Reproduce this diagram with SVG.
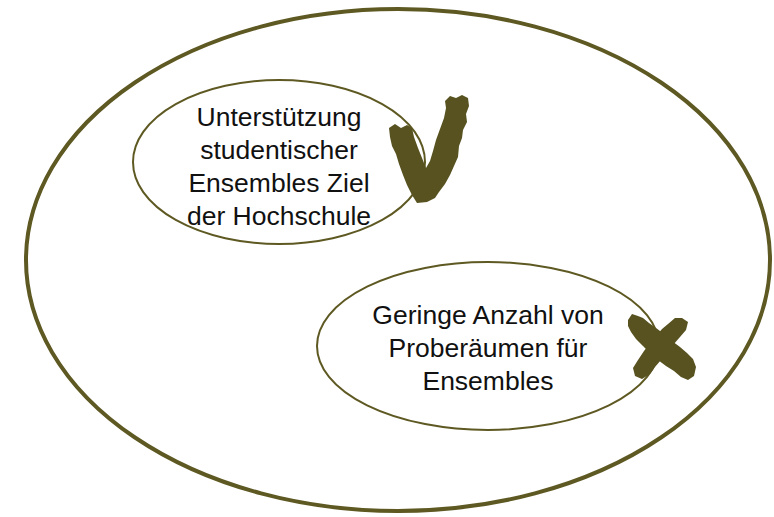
<svg xmlns="http://www.w3.org/2000/svg" width="774" height="517" viewBox="0 0 774 517">
  <style>
    .ring { fill: none; stroke: #5e5922; }
    .label { font-family: "Liberation Sans", Arial, sans-serif; font-size: 26.5px; fill: #111; text-anchor: middle; }
    .brush { fill: #575220; }
  </style>
  <rect width="774" height="517" fill="#ffffff"/>

  <g id="outer">
    <ellipse class="ring" cx="398" cy="260" rx="372" ry="251" stroke-width="4"/>
  </g>

  <g id="support">
    <ellipse class="ring" cx="279" cy="162" rx="146" ry="82" stroke-width="2"/>
    <text class="label" x="279" y="126">Unterstützung</text>
    <text class="label" x="279" y="159">studentischer</text>
    <text class="label" x="279" y="192">Ensembles Ziel</text>
    <text class="label" x="279" y="225">der Hochschule</text>
  </g>

  <g id="rooms">
    <ellipse class="ring" cx="488" cy="346" rx="171" ry="84" stroke-width="2"/>
    <text class="label" x="488" y="324">Geringe Anzahl von</text>
    <text class="label" x="488" y="357">Proberäumen für</text>
    <text class="label" x="488" y="390">Ensembles</text>
  </g>

  <!-- brush-stroke tick -->
  <g id="tick">
    <path class="brush" d="M389,128 L395,124 L401,128 L407,125 L412,128 L414,137 L418,148 L422,158 L426,168 L430,161 L433,151 L436,140 L440,129 L444,118 L446,108 L445,101 L450,96 L456,98 L462,95 L468,98 L469,106 L466,114 L467,122 L463,130 L462,138 L459,146 L458,157 L454,166 L450,175 L445,184 L439,192 L435,198 L427,202 L417,203 L412,195 L407,185 L403,175 L399,164 L396,154 L392,146 L390,137 Z"/>
  </g>

  <!-- brush-stroke cross -->
  <g id="cross">
    <path class="brush" d="M628,320 L632,314 L638,316 L643,318 L649,323 L656,328 L664,334 L672,341 L680,347 L687,353 L693,359 L696,367 L694,376 L688,380 L681,377 L674,371 L666,366 L658,360 L650,353 L643,346 L636,339 L631,332 L628,326 Z"/>
    <path class="brush" d="M668,324 L675,318 L682,318 L688,322 L686,330 L680,337 L673,345 L667,352 L661,360 L655,367 L650,374 L642,379 L635,376 L633,368 L638,360 L644,351 L650,343 L656,336 L662,329 Z"/>
  </g>
</svg>
